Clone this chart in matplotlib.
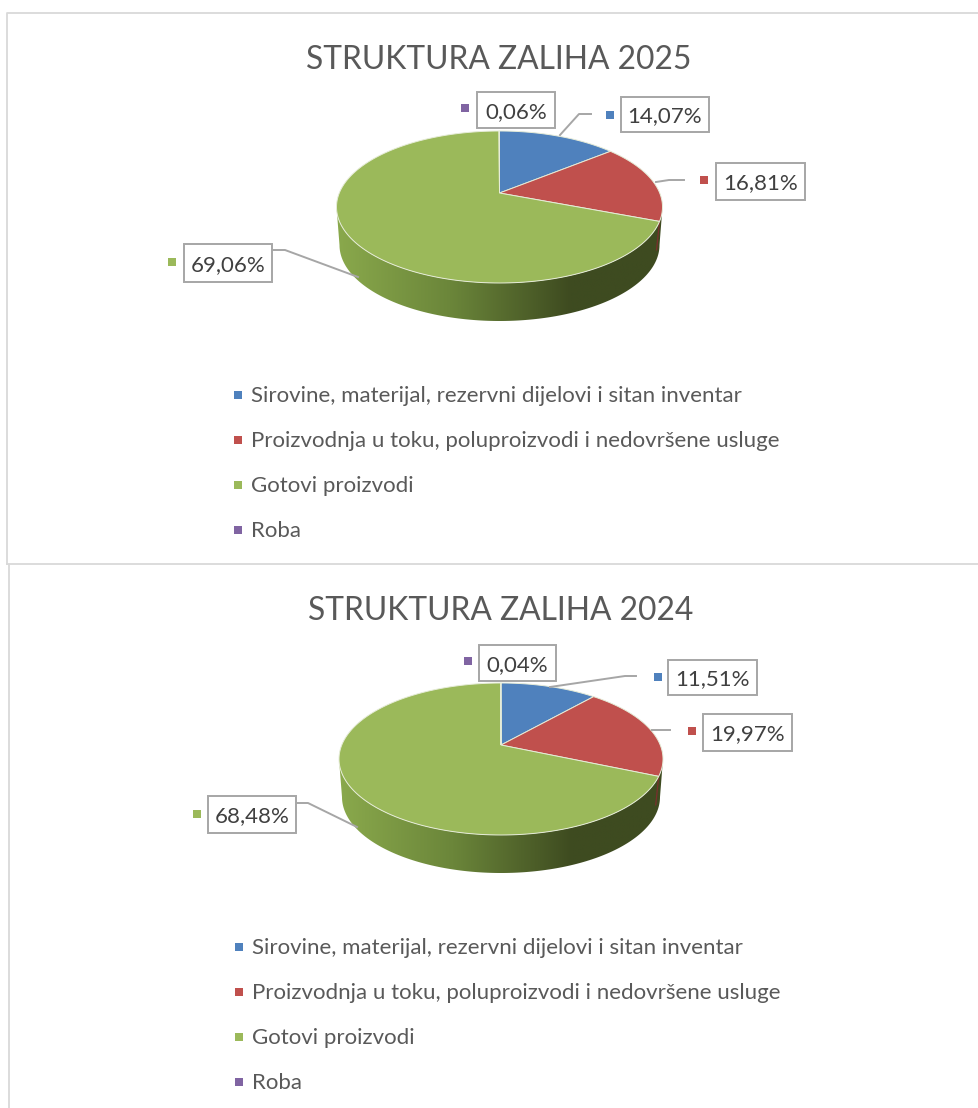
#!/usr/bin/env python
"""Two perspective 3D pies (zalihe 2025 / 2024), drawn in a pixel-sized axes."""
import numpy as np
import matplotlib
matplotlib.use("Agg")
import matplotlib.pyplot as plt
from matplotlib.colors import LinearSegmentedColormap
from matplotlib.patches import Polygon, Rectangle

W, H = 979, 1108

categories = ["Sirovine, materijal, rezervni dijelovi i sitan inventar",
              "Proizvodnja u toku, poluproizvodi i nedovršene usluge",
              "Gotovi proizvodi",
              "Roba"]
colors = ["#4f81bd", "#c0504d", "#9bb95a", "#8064a2"]

titles = ["STRUKTURA ZALIHA 2025", "STRUKTURA ZALIHA 2024"]
values_2025 = [14.07, 16.81, 69.06, 0.06]
values_2024 = [11.51, 19.97, 68.48, 0.04]
labels_2025 = ["14,07%", "16,81%", "69,06%", "0,06%"]
labels_2024 = ["11,51%", "19,97%", "68,48%", "0,04%"]

LAYOUT = [
    dict(title=(499, 60), cx=499.5, cy=207, rx=163, ry=76, depth=38,
         boxes=[(621, 97, 709, 132), (716, 163, 805, 200), (184, 244, 272, 282), (477, 92, 555, 128)],
         marks=[(610, 115), (704, 180), (172, 262), (465, 108)],
         leaders=[[(560, 135), (579, 114), (591, 114)], [(656, 182), (669, 180), (684, 180)],
                  [(358, 277), (285, 250), (272, 250)]],
         legend_x=238, legend_y=[395, 440, 485, 530]),
    dict(title=(501, 611), cx=501, cy=759, rx=162, ry=76, depth=38,
         boxes=[(668, 660, 757, 695), (703, 714, 792, 751), (208, 796, 296, 833), (479, 645, 556, 681)],
         marks=[(658, 677), (692, 731), (197, 814), (468, 661)],
         leaders=[[(550, 687), (625, 676), (636, 676)], [(652, 730), (670, 730)],
                  [(357, 827), (308, 803), (296, 803)]],
         legend_x=239, legend_y=[947, 992, 1037, 1082]),
]

plt.rcParams["font.family"] = ["Lato", "DejaVu Sans"]
fig = plt.figure(figsize=(W / 100, H / 100), dpi=100)
ax = fig.add_axes([0, 0, 1, 1])
ax.set_xlim(0, W)
ax.set_ylim(H, 0)
ax.axis("off")

wall_cmap = LinearSegmentedColormap.from_list(
    "wall", [(0, "#8aa94c"), (0.35, "#6b863a"), (0.72, "#3e4b20"), (1, "#3e4b20")])
D = 0.184  # how far the apex sits above the ellipse centre


def disc_to_px(theta, lay):
    # theta clockwise from 12 o'clock; projective map keeps the disc but moves its centre
    u, v = np.sin(theta), np.cos(theta)
    den = 1 + D * v
    return (lay["cx"] + lay["rx"] * u * np.sqrt(1 - D ** 2) / den,
            lay["cy"] - lay["ry"] * (v + D) / den)


def draw_pie(values, labels, title, lay):
    # side wall first, gradient clipped to the band under the front rim
    a = np.linspace(0, np.pi, 200)
    top = np.c_[lay["cx"] - lay["rx"] * np.cos(a), lay["cy"] + lay["ry"] * np.sin(a)]
    low = np.c_[lay["cx"] + (lay["rx"] - 3) * np.cos(a),
                lay["cy"] + lay["depth"] + lay["ry"] * np.sin(a)]
    wall = Polygon(np.r_[top, low], closed=True, fc="none", ec="none", transform=ax.transData)
    ax.add_patch(wall)
    grad = np.linspace(0, 1, 256)[None, :]
    im = ax.imshow(grad, cmap=wall_cmap, aspect="auto", zorder=1,
                   extent=(lay["cx"] - lay["rx"], lay["cx"] + lay["rx"],
                           lay["cy"] + lay["ry"] + lay["depth"], lay["cy"]))
    im.set_clip_path(wall)

    apex = (lay["cx"], lay["cy"] - lay["ry"] * D)
    edges = np.r_[0, np.cumsum(values)] / np.sum(values) * 2 * np.pi
    for start, stop, col in zip(edges[:-1], edges[1:], colors):
        t = np.linspace(start, stop, 160)
        px, py = disc_to_px(t, lay)
        ax.fill(np.r_[apex[0], px], np.r_[apex[1], py], fc=col, ec="#e6ecd8", lw=0.7, zorder=2)

    # sliver of the red wedge's wall at the right edge
    ex, ey = disc_to_px(edges[2], lay)
    ax.plot([ex, ex - 3], [ey, ey + lay["depth"] * 0.75], color="#7a2f2d", lw=0.9, zorder=1.5)

    ax.text(lay["title"][0], lay["title"][1], title, ha="center", va="center",
            fontsize=22.9, color="#595959")

    for pts in lay["leaders"]:
        xs, ys = zip(*pts)
        ax.plot(xs, ys, color="#a6a6a6", lw=1.4, zorder=3)
    for (x0, y0, x1, y1), (mx, my), lab, col in zip(lay["boxes"], lay["marks"], labels, colors):
        ax.add_patch(Rectangle((x0, y0), x1 - x0, y1 - y0, fc="white", ec="#a6a6a6", lw=1.4, zorder=4))
        ax.text((x0 + x1) / 2, (y0 + y1) / 2, lab, ha="center", va="center_baseline",
                fontsize=16, color="#404040", zorder=5)
        ax.add_patch(Rectangle((mx - 4, my - 4), 8, 8, fc=col, ec="none", zorder=5))

    lx = lay["legend_x"]
    for y, cat, col in zip(lay["legend_y"], categories, colors):
        ax.add_patch(Rectangle((lx - 4, y - 4), 8, 8, fc=col, ec="none", zorder=5))
        ax.text(lx + 13, y + 1, cat, ha="left", va="center", fontsize=16, color="#595959")


# outer chart frames
ax.plot([7, 7, W], [564, 13, 13], color="#d9d9d9", lw=1.3)
ax.plot([7, W], [564, 564], color="#d9d9d9", lw=1.3)
ax.plot([9, 9], [565, H], color="#d9d9d9", lw=1.3)

draw_pie(values_2025, labels_2025, titles[0], LAYOUT[0])
draw_pie(values_2024, labels_2024, titles[1], LAYOUT[1])
ax.set_xlim(0, W)
ax.set_ylim(H, 0)

fig.savefig("out.png", dpi=100)
